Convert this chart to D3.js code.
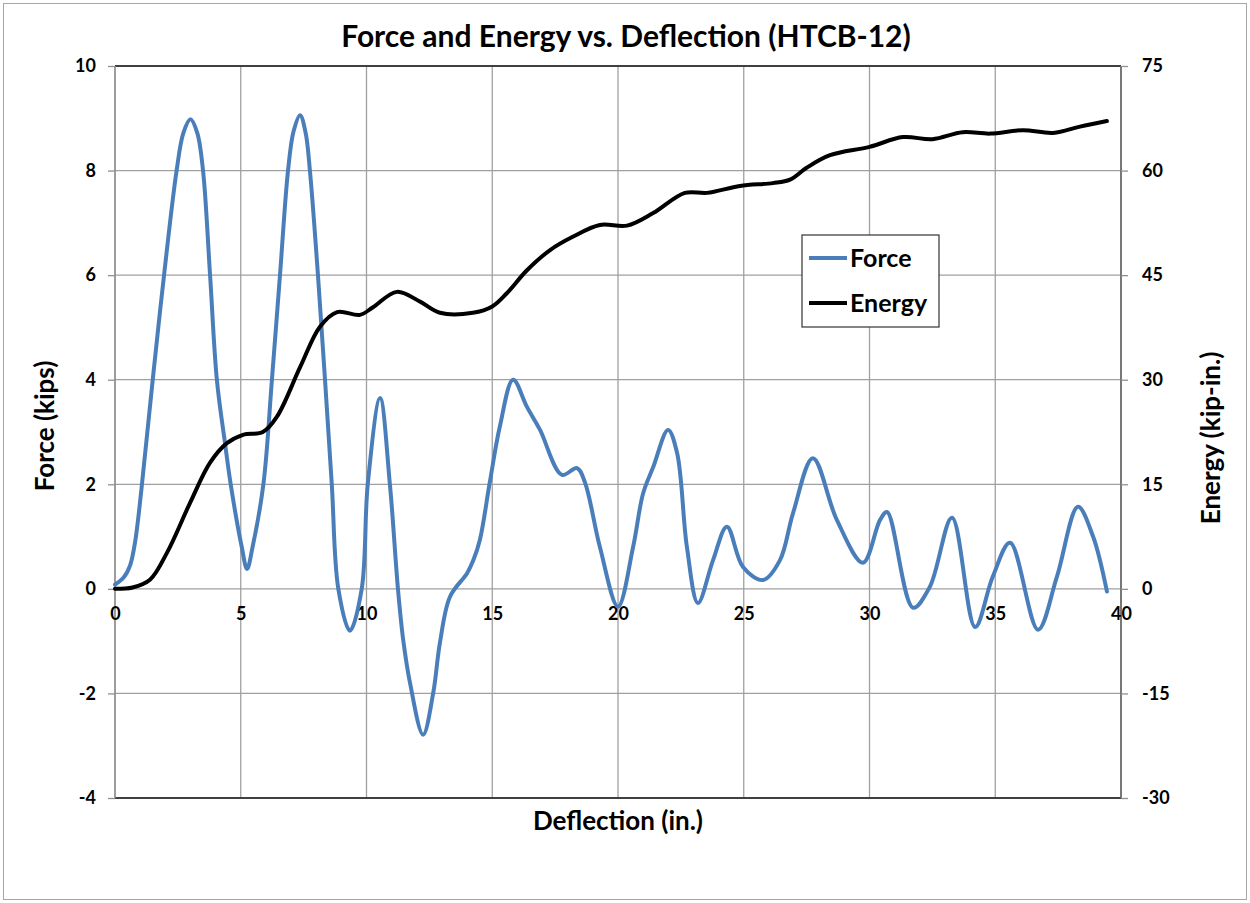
<!DOCTYPE html>
<html>
<head>
<meta charset="utf-8">
<script src="https://cdn.jsdelivr.net/npm/d3@7"></script>
<style>
  html, body { margin: 0; padding: 0; background: #fff; }
  svg text { font-family: Lato, "Open Sans", sans-serif; font-weight: bold; fill: #000; }
</style>
</head>
<body>
<svg id="chart" width="1250" height="903"></svg>
<script>
// ---- Data ----
const forceDefl = [0, 0.35, 0.6, 0.8, 1.05, 1.5, 1.95, 2.45, 2.72, 3.0, 3.27, 3.5, 3.78, 4.05, 4.37, 4.6, 5.04, 5.25, 5.47, 5.9, 6.24, 6.56, 6.88, 7.1, 7.36, 7.58, 7.75, 8.07, 8.35, 8.62, 8.88, 9.34, 9.81, 10.05, 10.54, 10.93, 11.25, 11.46, 11.73, 12.25, 12.65, 12.92, 13.32, 14.0, 14.25, 14.51, 14.9, 15.3, 15.83, 16.38, 16.9, 17.77, 18.37, 18.69, 19.28, 20.0, 20.6, 21.0, 21.4, 21.99, 22.35, 22.74, 23.18, 23.78, 24.33, 24.97, 25.77, 26.44, 26.96, 27.75, 28.7, 29.74, 30.42, 30.7, 31.73, 32.4, 33.28, 34.2, 34.9, 35.59, 36.7, 37.45, 38.29, 38.89, 39.44];
const forceVals = [0.08, 0.22, 0.45, 0.9, 1.9, 4.0, 6.0, 8.0, 8.72, 8.98, 8.72, 8.0, 6.0, 4.0, 2.8, 2.0, 0.8, 0.38, 0.8, 2.0, 4.0, 6.0, 8.0, 8.75, 9.06, 8.72, 8.0, 6.0, 4.0, 2.0, 0.0, -0.8, 0.0, 2.0, 3.65, 2.0, 0.0, -0.98, -1.8, -2.79, -2.0, -1.03, -0.15, 0.3, 0.55, 0.94, 2.03, 3.1, 4.0, 3.48, 3.04, 2.18, 2.31, 2.03, 0.8, -0.34, 0.8, 1.83, 2.33, 3.04, 2.6, 0.8, -0.27, 0.55, 1.19, 0.42, 0.17, 0.55, 1.45, 2.5, 1.32, 0.5, 1.32, 1.47, -0.36, 0.04, 1.36, -0.73, 0.23, 0.88, -0.78, 0.23, 1.57, 1.0, -0.05];

const energyDefl = [0, 0.7, 1.39, 2.07, 2.98, 3.78, 4.45, 5.09, 5.88, 6.44, 7.36, 8.15, 8.83, 9.74, 10.26, 11.21, 12.13, 12.92, 14.23, 15.0, 15.58, 16.38, 17.3, 18.2, 19.28, 20.36, 21.4, 22.66, 23.54, 24.85, 26.16, 26.84, 27.5, 28.43, 30.0, 31.33, 32.5, 33.7, 34.8, 36.1, 37.3, 38.37, 39.44];
const energyVals = [0, 0.2, 1.3, 5.2, 12.3, 18.1, 20.9, 22.1, 22.5, 24.7, 31.8, 37.6, 39.7, 39.3, 40.4, 42.6, 41.2, 39.6, 39.6, 40.5, 42.4, 45.7, 48.6, 50.5, 52.2, 52.1, 53.9, 56.8, 56.8, 57.8, 58.2, 58.7, 60.4, 62.2, 63.4, 64.8, 64.5, 65.5, 65.3, 65.8, 65.4, 66.3, 67.1];

const xTicks = [0, 5, 10, 15, 20, 25, 30, 35, 40];
const leftTicks = [-4, -2, 0, 2, 4, 6, 8, 10];
const rightTicks = [-30, -15, 0, 15, 30, 45, 60, 75];

const seriesNames = ["Force", "Energy"];
const seriesColors = ["#4a7ebb", "#000000"];

// ---- Layout ----
const svg = d3.select("#chart");
const L = 115, R = 1121, T = 66, B = 798;
const fmt = d => String(d);

const x = d3.scaleLinear().domain([0, 40]).range([L, R]);
const yF = d3.scaleLinear().domain([-4, 10]).range([B, T]);
const yE = d3.scaleLinear().domain([-30, 75]).range([B, T]);

// outer border
svg.append("rect").attr("x", 3.5).attr("y", 3.5).attr("width", 1243).attr("height", 896)
  .attr("fill", "#fff").attr("stroke", "#a6a6a6").attr("stroke-width", 1);

// gridlines
const grid = svg.append("g");
grid.selectAll("line.h").data(leftTicks).join("line")
  .attr("x1", L).attr("x2", R).attr("y1", d => yF(d)).attr("y2", d => yF(d))
  .attr("stroke", "#a0a0a0").attr("stroke-width", 1.3);
grid.selectAll("line.v").data(xTicks).join("line")
  .attr("y1", T).attr("y2", B).attr("x1", d => x(d)).attr("x2", d => x(d))
  .attr("stroke", "#a0a0a0").attr("stroke-width", 1.3);

// frame lines
svg.append("line").attr("x1", L).attr("x2", R).attr("y1", T).attr("y2", T).attr("stroke", "#404040").attr("stroke-width", 1.8);
svg.append("line").attr("x1", L).attr("x2", R).attr("y1", B).attr("y2", B).attr("stroke", "#404040").attr("stroke-width", 1.8);
svg.append("line").attr("x1", R).attr("x2", R).attr("y1", T).attr("y2", B).attr("stroke", "#707070").attr("stroke-width", 1.8);
svg.append("line").attr("x1", L).attr("x2", L).attr("y1", T).attr("y2", B).attr("stroke", "#909090").attr("stroke-width", 1.5);

// left axis
const leftAxis = d3.axisLeft(yF).tickValues(leftTicks).tickSize(7).tickPadding(12).tickFormat(fmt);
const gl = svg.append("g").attr("transform", `translate(${L},0)`).call(leftAxis);
gl.select(".domain").remove();
gl.selectAll(".tick line").attr("stroke", "#909090").attr("stroke-width", 1.3);
gl.selectAll(".tick text").style("font-size", "18px").attr("fill", "#000");

// right axis
const rightAxis = d3.axisRight(yE).tickValues(rightTicks).tickSize(7).tickPadding(14).tickFormat(fmt);
const gr = svg.append("g").attr("transform", `translate(${R},0)`).call(rightAxis);
gr.select(".domain").remove();
gr.selectAll(".tick line").attr("stroke", "#909090").attr("stroke-width", 1.3);
gr.selectAll(".tick text").style("font-size", "18px").attr("fill", "#000");

// bottom axis crossing at zero
const bottomAxis = d3.axisBottom(x).tickValues(xTicks).tickSize(0).tickPadding(18).tickFormat(fmt);
const gb = svg.append("g").attr("transform", `translate(0,${yF(0)})`).call(bottomAxis);
gb.select(".domain").remove();
gb.selectAll(".tick text").style("font-size", "18px").attr("fill", "#000");

// lines
const forceData = forceDefl.map((d, i) => [d, forceVals[i]]);
const energyData = energyDefl.map((d, i) => [d, energyVals[i]]);

const lineF = d3.line().x(d => x(d[0])).y(d => yF(d[1])).curve(d3.curveCatmullRom.alpha(0.5));
const lineE = d3.line().x(d => x(d[0])).y(d => yE(d[1])).curve(d3.curveCatmullRom.alpha(0.5));

svg.append("path").datum(forceData).attr("d", lineF)
  .attr("fill", "none").attr("stroke", seriesColors[0]).attr("stroke-width", 4)
  .attr("stroke-linejoin", "round").attr("stroke-linecap", "round");
svg.append("path").datum(energyData).attr("d", lineE)
  .attr("fill", "none").attr("stroke", seriesColors[1]).attr("stroke-width", 4)
  .attr("stroke-linejoin", "round").attr("stroke-linecap", "round");

// title
svg.append("text").attr("x", 626).attr("y", 47).attr("text-anchor", "middle")
  .style("font-size", "30px").text("Force and Energy vs. Deflection (HTCB-12)");

// axis titles
svg.append("text").attr("x", 618).attr("y", 830).attr("text-anchor", "middle")
  .style("font-size", "26px").text("Deflection (in.)");
svg.append("text").attr("transform", `translate(54,${(T + B) / 2 - 6}) rotate(-90)`)
  .attr("text-anchor", "middle").style("font-size", "26px").text("Force (kips)");
svg.append("text").attr("transform", `translate(1220,${(T + B) / 2 + 6}) rotate(-90)`)
  .attr("text-anchor", "middle").style("font-size", "26px").text("Energy (kip-in.)");

// legend
const lg = svg.append("g");
lg.append("rect").attr("x", 802).attr("y", 235).attr("width", 137).attr("height", 92)
  .attr("fill", "#fff").attr("stroke", "#333").attr("stroke-width", 1.2);
const ly = [258, 303];
seriesNames.forEach((n, i) => {
  lg.append("line").attr("x1", 809).attr("x2", 847).attr("y1", ly[i]).attr("y2", ly[i])
    .attr("stroke", seriesColors[i]).attr("stroke-width", 4);
  lg.append("text").attr("x", 850).attr("y", ly[i]).attr("dy", "0.35em")
    .style("font-size", "25px").text(n);
});
</script>
</body>
</html>
